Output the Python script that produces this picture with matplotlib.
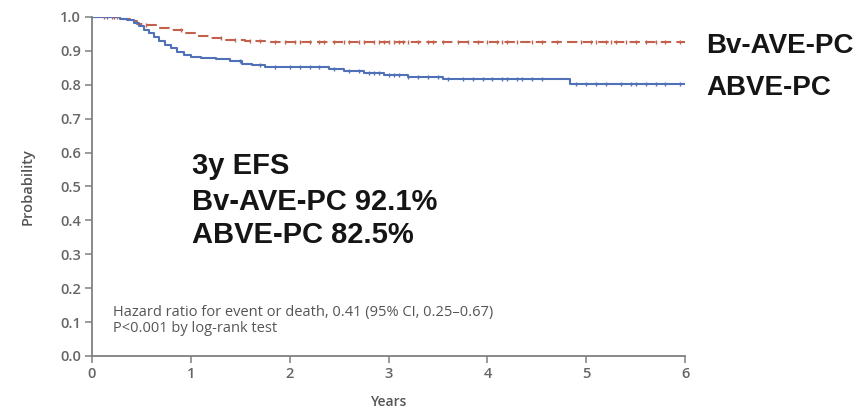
import numpy as np
import matplotlib.pyplot as plt

# Kaplan-Meier step data
bv_times = [0, 0.30, 0.38, 0.46, 0.55, 0.65, 0.80, 0.95, 1.05, 1.20, 1.35, 1.55, 1.75, 6.00]
bv_surv = [1.0, 0.995, 0.988, 0.980, 0.975, 0.968, 0.962, 0.952, 0.945, 0.938, 0.933, 0.929,
           0.926, 0.926]
abve_times = [0, 0.28, 0.35, 0.42, 0.48, 0.53, 0.58, 0.63, 0.68, 0.74, 0.80, 0.86, 0.93, 1.00,
              1.10, 1.25, 1.40, 1.52, 1.62, 1.75, 1.95, 2.40, 2.55, 2.75, 2.95, 3.20, 3.55,
              4.83, 6.00]
abve_surv = [1.0, 0.995, 0.99, 0.982, 0.972, 0.962, 0.952, 0.942, 0.93, 0.918, 0.908, 0.898,
             0.889, 0.882, 0.879, 0.875, 0.869, 0.862, 0.857, 0.853, 0.851, 0.846, 0.84,
             0.835, 0.829, 0.824, 0.816, 0.801, 0.801]

# censoring ticks (years)
bv_censor = [0.12, 0.2, 0.25, 0.55, 0.9, 1.3, 1.45, 1.6, 1.7, 1.85, 1.95, 2.05, 2.1, 2.2, 2.3,
             2.35, 2.45, 2.55, 2.6, 2.7, 2.75, 2.85, 2.9, 2.95, 3.0, 3.05, 3.1, 3.15, 3.2,
             3.3, 3.4, 3.45, 3.55, 3.7, 3.8, 3.9, 4.0, 4.1, 4.15, 4.2, 4.3, 4.45, 4.55, 4.7,
             4.95, 5.05, 5.1, 5.2, 5.25, 5.3, 5.4, 5.5, 5.6, 5.7, 5.8, 5.95]
abve_censor = [0.15, 0.22, 1.5, 1.7, 1.85, 2.0, 2.1, 2.2, 2.3, 2.45, 2.6, 2.7, 2.8, 2.85, 2.9,
               3.0, 3.05, 3.1, 3.2, 3.3, 3.4, 3.5, 3.6, 3.75, 3.85, 3.95, 4.05, 4.15, 4.2,
               4.3, 4.35, 4.45, 4.55, 4.9, 5.0, 5.1, 5.2, 5.35, 5.45, 5.5, 5.6, 5.7, 5.8, 5.95]

y_ticks = [0.0, 0.1, 0.2, 0.3, 0.4, 0.5, 0.6, 0.7, 0.8, 0.9, 1.0]
x_ticks = [0, 1, 2, 3, 4, 5, 6]

red = '#c4614c'
blue = '#5071b8'
grey = '#666666'


def surv_at(times, surv, t):
    idx = np.searchsorted(times, t, side='right') - 1
    return np.array(surv)[idx]


fig = plt.figure(figsize=(8.56, 4.09), dpi=100)
ax = fig.add_axes([0.1075, 0.1296, 0.693, 0.829])

ax.step(bv_times, bv_surv, where='post', color=red, lw=1.5, dashes=(5, 2.5))
ax.step(abve_times, abve_surv, where='post', color=blue, lw=1.5)
ax.plot(bv_censor, surv_at(bv_times, bv_surv, bv_censor), ls='none', marker='|',
        ms=3.5, mew=1.0, color=red)
ax.plot(abve_censor, surv_at(abve_times, abve_surv, abve_censor), ls='none', marker='|',
        ms=3.5, mew=1.0, color=blue)

ax.set_xlim(0, 6)
ax.set_ylim(0, 1.0)
ax.set_xticks(x_ticks)
ax.set_yticks(y_ticks)
ax.set_yticklabels([f'{v:.1f}' for v in y_ticks])
for s in ['top', 'right']:
    ax.spines[s].set_visible(False)
for s in ['left', 'bottom']:
    ax.spines[s].set_color('#808080')
    ax.spines[s].set_linewidth(1.3)
ax.tick_params(colors='#808080', labelcolor=grey, labelsize=10.5, length=5, width=1.1, pad=3)
for lab in ax.get_xticklabels() + ax.get_yticklabels():
    lab.set_family('Open Sans')
    lab.set_fontweight('semibold')
ax.set_xlabel('Years', fontsize=10, color='#555555', family='Open Sans',
              fontweight='semibold', labelpad=10)
ax.set_ylabel('Probability', fontsize=10.5, color='#555555', family='Open Sans',
              fontweight='semibold', labelpad=18)

big = dict(fontsize=21, fontweight='bold', family='Liberation Sans', color='#151515')
ax.text(1.01, 0.538, '3y EFS', **big)
ax.text(1.01, 0.432, 'Bv-AVE-PC 92.1%', **big)
ax.text(1.01, 0.334, 'ABVE-PC 82.5%', **big)

right = dict(fontsize=20, fontweight='bold', family='Liberation Sans', color='#151515')
fig.text(0.825, 0.870, 'Bv-AVE-PC', **right)
fig.text(0.825, 0.768, 'ABVE-PC', **right)

small = dict(fontsize=10.5, family='Open Sans', color='#555555')
ax.text(0.21, 0.118, 'Hazard ratio for event or death, 0.41 (95% CI, 0.25\u20130.67)', **small)
ax.text(0.21, 0.072, 'P<0.001 by log-rank test', **small)

fig.savefig('out.png', dpi=100)
